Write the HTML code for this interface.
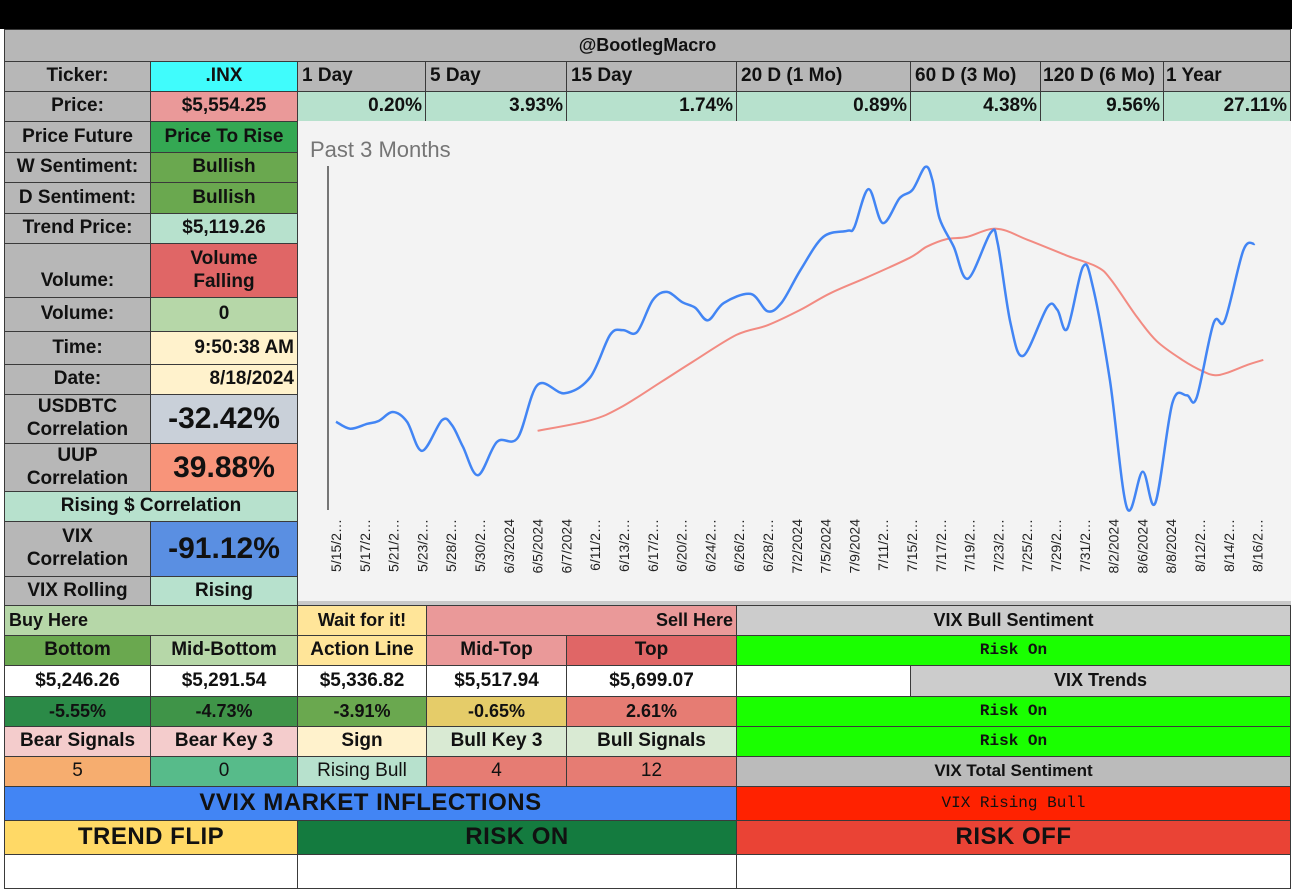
<!DOCTYPE html>
<html><head><meta charset="utf-8">
<style>
body{margin:0;width:1292px;height:890px;position:relative;background:#fff;overflow:hidden;font-family:"Liberation Sans",Arial,sans-serif;}
.c{position:absolute;box-sizing:border-box;border:1px solid #3a3a3a;display:flex;align-items:center;justify-content:center;font-weight:bold;font-size:19px;color:#111;text-align:center;line-height:1.2;overflow:hidden;white-space:nowrap;}
.l{justify-content:flex-start;padding-left:4px;}
.r{justify-content:flex-end;padding-right:3px;}
.n{font-size:18px;}
.m{font-family:"Liberation Mono",monospace;font-size:16px;}
.big{font-size:24px;letter-spacing:0.5px;}
.g{background:#b7b7b7;}
</style></head><body>
<div style="position:absolute;left:0;top:0;width:1292px;height:29px;background:#000"></div>
<div class="c g" style="left:4px;top:29px;width:1287px;height:33px;font-size:18px">@BootlegMacro</div>

<div class="c g" style="left:4px;top:61px;width:147px;height:31px">Ticker:</div>
<div class="c" style="left:150px;top:61px;width:148px;height:31px;background:#40fcfc">.INX</div>
<div class="c g l" style="left:297px;top:61px;width:129px;height:31px">1 Day</div>
<div class="c g l" style="left:425px;top:61px;width:142px;height:31px">5 Day</div>
<div class="c g l" style="left:566px;top:61px;width:171px;height:31px">15 Day</div>
<div class="c g l" style="left:736px;top:61px;width:175px;height:31px">20 D (1 Mo)</div>
<div class="c g l" style="left:910px;top:61px;width:131px;height:31px">60 D (3 Mo)</div>
<div class="c g l" style="left:1040px;top:61px;width:124px;height:31px;padding-left:2px">120 D (6 Mo)</div>
<div class="c g l" style="left:1163px;top:61px;width:128px;height:31px;padding-left:2px">1 Year</div>

<div class="c g" style="left:4px;top:91px;width:147px;height:31px">Price:</div>
<div class="c" style="left:150px;top:91px;width:148px;height:31px;background:#ea9999">$5,554.25</div>
<div class="c r" style="left:297px;top:91px;width:129px;height:31px;background:#b7e1cd">0.20%</div>
<div class="c r" style="left:425px;top:91px;width:142px;height:31px;background:#b7e1cd">3.93%</div>
<div class="c r" style="left:566px;top:91px;width:171px;height:31px;background:#b7e1cd">1.74%</div>
<div class="c r" style="left:736px;top:91px;width:175px;height:31px;background:#b7e1cd">0.89%</div>
<div class="c r" style="left:910px;top:91px;width:131px;height:31px;background:#b7e1cd">4.38%</div>
<div class="c r" style="left:1040px;top:91px;width:124px;height:31px;background:#b7e1cd">9.56%</div>
<div class="c r" style="left:1163px;top:91px;width:128px;height:31px;background:#b7e1cd">27.11%</div>

<div class="c g" style="left:4px;top:121px;width:147px;height:32px">Price Future</div>
<div class="c" style="left:150px;top:121px;width:148px;height:32px;background:#34a853">Price To Rise</div>
<div class="c g" style="left:4px;top:152px;width:147px;height:31px">W Sentiment:</div>
<div class="c" style="left:150px;top:152px;width:148px;height:31px;background:#6aa84f">Bullish</div>
<div class="c g" style="left:4px;top:182px;width:147px;height:32px">D Sentiment:</div>
<div class="c" style="left:150px;top:182px;width:148px;height:32px;background:#6aa84f">Bullish</div>
<div class="c g" style="left:4px;top:213px;width:147px;height:31px">Trend Price:</div>
<div class="c" style="left:150px;top:213px;width:148px;height:31px;background:#b7e1cd">$5,119.26</div>
<div class="c g" style="left:4px;top:243px;width:147px;height:55px;align-items:flex-end;padding-bottom:4px">Volume:</div>
<div class="c" style="left:150px;top:243px;width:148px;height:55px;background:#e06666;white-space:normal">Volume<br>Falling</div>
<div class="c g" style="left:4px;top:297px;width:147px;height:35px">Volume:</div>
<div class="c" style="left:150px;top:297px;width:148px;height:35px;background:#b6d7a8">0</div>
<div class="c g" style="left:4px;top:331px;width:147px;height:34px">Time:</div>
<div class="c r" style="left:150px;top:331px;width:148px;height:34px;background:#fff2cc">9:50:38 AM</div>
<div class="c g" style="left:4px;top:364px;width:147px;height:31px">Date:</div>
<div class="c r" style="left:150px;top:364px;width:148px;height:31px;background:#fff2cc">8/18/2024</div>
<div class="c g" style="left:4px;top:394px;width:147px;height:50px">USDBTC<br>Correlation</div>
<div class="c" style="left:150px;top:394px;width:148px;height:50px;background:#c9d0d9;font-size:30px">-32.42%</div>
<div class="c g" style="left:4px;top:443px;width:147px;height:49px">UUP<br>Correlation</div>
<div class="c" style="left:150px;top:443px;width:148px;height:49px;background:#f8947a;font-size:30px">39.88%</div>
<div class="c" style="left:4px;top:491px;width:294px;height:31px;background:#b7e1cd">Rising $ Correlation</div>
<div class="c g" style="left:4px;top:521px;width:147px;height:56px">VIX<br>Correlation</div>
<div class="c" style="left:150px;top:521px;width:148px;height:56px;background:#5a8fe2;font-size:30px">-91.12%</div>
<div class="c g" style="left:4px;top:576px;width:147px;height:30px">VIX Rolling</div>
<div class="c" style="left:150px;top:576px;width:148px;height:30px;background:#b7e1cd">Rising</div>

<svg id="chart" style="position:absolute;left:0;top:0" width="1292" height="890">
<rect x="298" y="121" width="993" height="484" fill="#f3f3f3"/>
<text x="310" y="157" font-family="Liberation Sans, sans-serif" font-size="22" fill="#757575">Past 3 Months</text>
<line x1="328" y1="166" x2="328" y2="510" stroke="#222" stroke-width="1.2"/>
<g id="xlabels"></g>
<g id="lines"></g>
<rect x="298" y="601" width="993" height="5" fill="#c8c8c8"/>
</svg>

<div class="c n l" style="left:4px;top:605px;width:294px;height:31px;background:#b6d7a8">Buy Here</div>
<div class="c n" style="left:297px;top:605px;width:130px;height:31px;background:#ffe599">Wait for it!</div>
<div class="c n r" style="left:426px;top:605px;width:311px;height:31px;background:#ea9999">Sell Here</div>
<div class="c n" style="left:736px;top:605px;width:555px;height:31px;background:#cccccc">VIX Bull Sentiment</div>

<div class="c" style="left:4px;top:635px;width:147px;height:31px;background:#6aa84f">Bottom</div>
<div class="c" style="left:150px;top:635px;width:148px;height:31px;background:#b6d7a8">Mid-Bottom</div>
<div class="c" style="left:297px;top:635px;width:130px;height:31px;background:#ffe599">Action Line</div>
<div class="c" style="left:426px;top:635px;width:141px;height:31px;background:#ea9999">Mid-Top</div>
<div class="c" style="left:566px;top:635px;width:171px;height:31px;background:#e06666">Top</div>
<div class="c m" style="left:736px;top:635px;width:555px;height:31px;background:#1aff00">Risk On</div>

<div class="c" style="left:4px;top:665px;width:147px;height:32px;background:#fff">$5,246.26</div>
<div class="c" style="left:150px;top:665px;width:148px;height:32px;background:#fff">$5,291.54</div>
<div class="c" style="left:297px;top:665px;width:130px;height:32px;background:#fff">$5,336.82</div>
<div class="c" style="left:426px;top:665px;width:141px;height:32px;background:#fff">$5,517.94</div>
<div class="c" style="left:566px;top:665px;width:171px;height:32px;background:#fff">$5,699.07</div>
<div class="c" style="left:736px;top:665px;width:175px;height:32px;background:#fff"></div>
<div class="c n" style="left:910px;top:665px;width:381px;height:32px;background:#cccccc">VIX Trends</div>

<div class="c n" style="left:4px;top:696px;width:147px;height:31px;background:#2b8a47">-5.55%</div>
<div class="c n" style="left:150px;top:696px;width:148px;height:31px;background:#3f9448">-4.73%</div>
<div class="c n" style="left:297px;top:696px;width:130px;height:31px;background:#6aa84f">-3.91%</div>
<div class="c n" style="left:426px;top:696px;width:141px;height:31px;background:#e5cc69">-0.65%</div>
<div class="c n" style="left:566px;top:696px;width:171px;height:31px;background:#e67c73">2.61%</div>
<div class="c m" style="left:736px;top:696px;width:555px;height:31px;background:#1aff00">Risk On</div>

<div class="c" style="left:4px;top:726px;width:147px;height:31px;background:#f4cccc">Bear Signals</div>
<div class="c" style="left:150px;top:726px;width:148px;height:31px;background:#f4cccc">Bear Key 3</div>
<div class="c" style="left:297px;top:726px;width:130px;height:31px;background:#fff2cc">Sign</div>
<div class="c" style="left:426px;top:726px;width:141px;height:31px;background:#d9ead3">Bull Key 3</div>
<div class="c" style="left:566px;top:726px;width:171px;height:31px;background:#d9ead3">Bull Signals</div>
<div class="c m" style="left:736px;top:726px;width:555px;height:31px;background:#1aff00">Risk On</div>

<div class="c" style="left:4px;top:756px;width:147px;height:31px;background:#f6ad6f;font-weight:normal">5</div>
<div class="c" style="left:150px;top:756px;width:148px;height:31px;background:#57bb8a;font-weight:normal">0</div>
<div class="c" style="left:297px;top:756px;width:130px;height:31px;background:#b7e1cd;font-weight:normal">Rising Bull</div>
<div class="c" style="left:426px;top:756px;width:141px;height:31px;background:#e67c73;font-weight:normal">4</div>
<div class="c" style="left:566px;top:756px;width:171px;height:31px;background:#e67c73;font-weight:normal">12</div>
<div class="c n" style="left:736px;top:756px;width:555px;height:31px;background:#bbbbbb;font-size:17px">VIX Total Sentiment</div>

<div class="c big" style="left:4px;top:786px;width:733px;height:35px;background:#4285f4">VVIX MARKET INFLECTIONS</div>
<div class="c m" style="left:736px;top:786px;width:555px;height:35px;background:#ff2200;font-weight:normal">VIX Rising Bull</div>

<div class="c big" style="left:4px;top:820px;width:294px;height:35px;background:#ffd966">TREND FLIP</div>
<div class="c big" style="left:297px;top:820px;width:440px;height:35px;background:#147b3f">RISK ON</div>
<div class="c big" style="left:736px;top:820px;width:555px;height:35px;background:#ea4335">RISK OFF</div>

<div class="c" style="left:4px;top:854px;width:294px;height:35px;background:#fff"></div>
<div class="c" style="left:297px;top:854px;width:440px;height:35px;background:#fff"></div>
<div class="c" style="left:736px;top:854px;width:555px;height:35px;background:#fff"></div>

<script>
const dateLabels = ["5/15/2…","5/17/2…","5/21/2…","5/23/2…","5/28/2…","5/30/2…","6/3/2024","6/5/2024","6/7/2024","6/11/2…","6/13/2…","6/17/2…","6/20/2…","6/24/2…","6/26/2…","6/28/2…","7/2/2024","7/5/2024","7/9/2024","7/11/2…","7/15/2…","7/17/2…","7/19/2…","7/23/2…","7/25/2…","7/29/2…","7/31/2…","8/2/2024","8/6/2024","8/8/2024","8/12/2…","8/14/2…","8/16/2…"];
const priceDays = [0,1,2.2,3,4,5,6.06,7.46,8.17,8.94,10,11.34,12.8,14.2,16.1,17.9,19.3,20.2,21.2,22.3,23.3,24.4,25.3,26.2,27.3,29.2,30.4,31.4,32.7,34.3,36,36.5,37.5,38.5,39.7,40.6,41.5,42,42.5,43.5,44.5,46.1,46.6,47.5,48.4,50.1,50.8,51.5,52.6,53.3,54.5,55.7,56.8,57.7,58.9,59.9,60.6,61.8,62.6,63.9,64.7];
const priceValues = [5300,5290,5297,5301,5314,5300,5258,5302,5295,5264,5223,5271,5277,5353,5341,5364,5425,5432,5429,5475,5487,5472,5464,5446,5471,5484,5459,5472,5518,5566,5575,5580,5635,5586,5622,5634,5667,5648,5593,5552,5506,5572,5557,5442,5395,5465,5461,5434,5523,5494,5360,5176,5228,5183,5327,5338,5334,5442,5446,5547,5556];
const maDays = [14.2,17.9,20,22.8,25.1,28.2,30.4,32.7,34.8,37.4,40.4,41.6,43,44.4,46.5,48.7,51.5,53.6,54.6,56.4,57.8,59.6,61.1,61.9,62.7,64.2,65.3];
const maValues = [5287,5302,5320,5356,5386,5425,5439,5461,5485,5508,5536,5552,5563,5566,5578,5562,5539,5523,5504,5451,5416,5389,5372,5367,5370,5382,5389];

const NS="http://www.w3.org/2000/svg";
function xDay(d){return 336+d*14.2;}
function yPrice(p){return 512-(p-5170)/1.44;}
function xLabel(i){return 336+i*28.8;}
function smooth(pts){
  let d="M"+pts[0][0].toFixed(1)+","+pts[0][1].toFixed(1);
  for(let i=0;i<pts.length-1;i++){
    const p0=pts[i-1]||pts[i],p1=pts[i],p2=pts[i+1],p3=pts[i+2]||p2;
    const c1=[p1[0]+(p2[0]-p0[0])/6,p1[1]+(p2[1]-p0[1])/6];
    const c2=[p2[0]-(p3[0]-p1[0])/6,p2[1]-(p3[1]-p1[1])/6];
    d+=" C"+c1[0].toFixed(1)+","+c1[1].toFixed(1)+" "+c2[0].toFixed(1)+","+c2[1].toFixed(1)+" "+p2[0].toFixed(1)+","+p2[1].toFixed(1);
  }
  return d;
}
const lg=document.getElementById("lines");
const ma=document.createElementNS(NS,"path");


ma.setAttribute("d",smooth(maDays.map((d,i)=>[xDay(d),yPrice(maValues[i])])));
ma.setAttribute("fill","none");ma.setAttribute("stroke","#f28b82");ma.setAttribute("stroke-width","2");
lg.appendChild(ma);
const pl=document.createElementNS(NS,"path");


pl.setAttribute("d",smooth(priceDays.map((d,i)=>[xDay(d),yPrice(priceValues[i])])));
pl.setAttribute("fill","none");pl.setAttribute("stroke","#4285f4");pl.setAttribute("stroke-width","2.5");
lg.appendChild(pl);
const xg=document.getElementById("xlabels");
dateLabels.forEach((t,i)=>{
  const tx=document.createElementNS(NS,"text");
  
  
  const x=xLabel(i)+5,y=519;
  tx.setAttribute("x",x);tx.setAttribute("y",y);
  tx.setAttribute("transform","rotate(-90 "+x+" "+y+")");
  tx.setAttribute("text-anchor","end");
  tx.setAttribute("font-family","Liberation Sans, sans-serif");
  tx.setAttribute("font-size","14");tx.setAttribute("fill","#222");
  tx.textContent=t;
  xg.appendChild(tx);
});
</script>
</body></html>
